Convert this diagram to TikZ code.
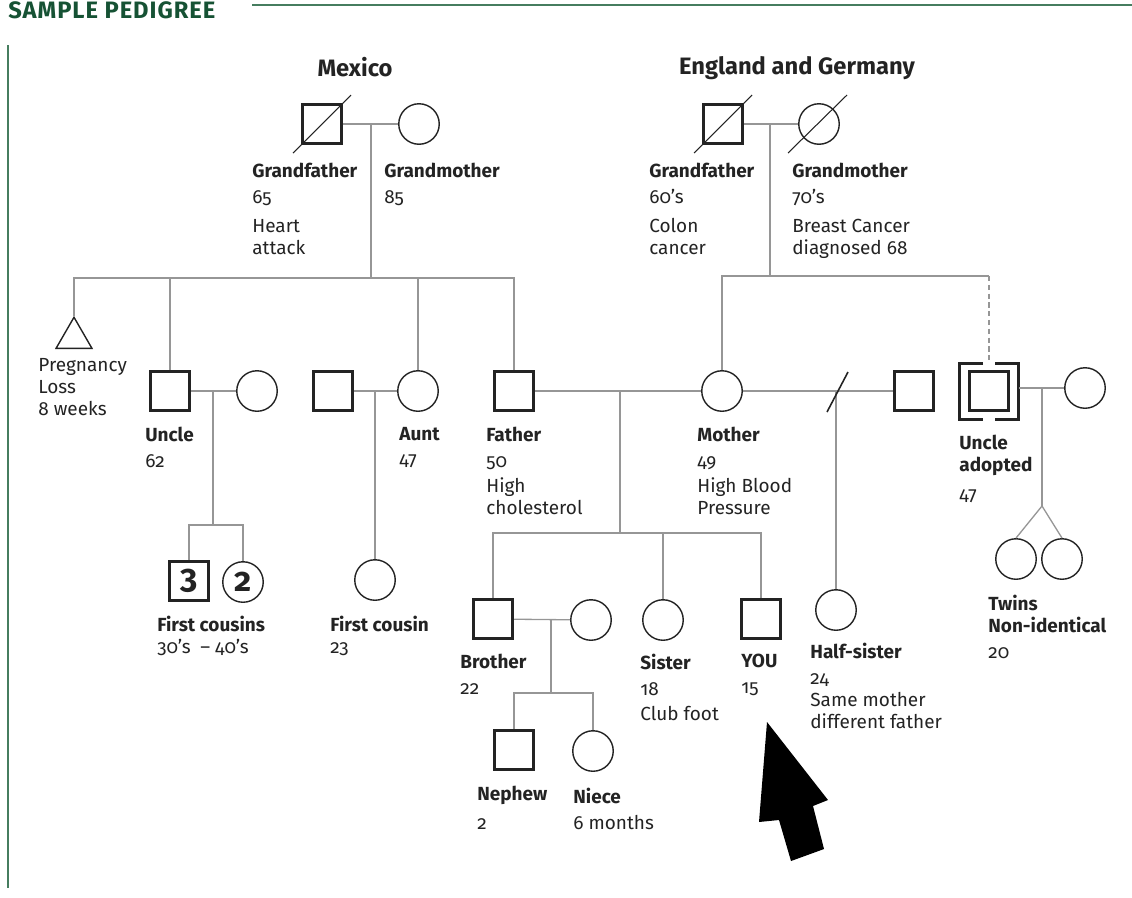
\documentclass[tikz,border=0pt]{standalone}
\usepackage{fontspec}
\setmainfont{Fira Sans}[Numbers=OldStyle]
\usepackage{tikz}
\definecolor{pdgreen}{RGB}{22,82,52}
\definecolor{pdrule}{RGB}{70,125,95}
\definecolor{pdgrey}{RGB}{150,150,150}
\definecolor{pdink}{RGB}{35,35,35}
\usetikzlibrary{calc, shapes.geometric}
\tikzset{
    pdmale/.style={rectangle, draw=pdink, minimum size=0.79cm, inner sep=0pt, line width=1.7pt},
    pdfemale/.style={circle, draw=pdink, minimum size=0.81cm, inner sep=0pt, line width=0.8pt},
    pdloss/.style={regular polygon, regular polygon sides=3, draw=pdink, minimum size=0.83cm, inner sep=0pt, line width=0.8pt},
    pdline/.style={draw=pdgrey, line width=0.75pt},
    pdslash/.style={draw=pdink, line width=0.6pt},
    pdnum/.style={font=\bfseries\fontsize{19}{20}\selectfont, text=pdink},
    pdtext/.style={anchor=north west, align=left, inner sep=0pt, text=pdink, font=\fontsize{10.8}{12.5}\selectfont},
    pdtitle/.style={inner sep=0pt, text=pdink, font=\bfseries\fontsize{13.5}{16}\selectfont}
}

\begin{document}
\begin{tikzpicture}[x=0.02cm, y=-0.02cm]
  \useasboundingbox (0,0) rectangle (1132,897);
  % header
  \node[anchor=base west, inner sep=0pt, text=pdgreen,
        font=\bfseries\fontsize{13.5}{15}\selectfont\addfontfeature{LetterSpace=4}] (head) at (8,18) {SAMPLE PEDIGREE};
  \draw[pdrule, line width=0.75pt] (252,5) -- (1132,5);
  \draw[pdrule, line width=0.75pt] (8,45) -- (8,888);

  % Mexico grandparents
  \node[pdtitle] (tmex) at (355,67) {Mexico};
  \node[pdmale] (mgf) at (322,124) {};
  \node[pdfemale] (mgm) at (419,124) {};
  \draw[pdslash] ($(mgf)+(-29,29)$) -- ($(mgf)+(29,-29)$);
  \coordinate (mm) at (371,124);
  \coordinate (ms) at (371,278);
  \draw[pdline] (mgf) -- (mgm);
  \draw[pdline] (mm) -- (ms);
  \node[pdtext] (lmgf) at (252,163) {\textbf{Grandfather}\\[2pt] 65\\[4pt] Heart\\ attack};
  \node[pdtext] (lmgm) at (384,163) {\textbf{Grandmother}\\[2pt] 85};

  % England and Germany grandparents
  \node[pdtitle] (teg) at (797,68) {England and Germany};
  \node[pdmale] (egf) at (723,124) {};
  \node[pdfemale] (egm) at (819,124) {};
  \draw[pdslash] ($(egf)+(-29,29)$) -- ($(egf)+(29,-29)$);
  \draw[pdslash] ($(egm)+(-31,29)$) -- ($(egm)+(28,-29)$);
  \coordinate (em) at (770,124);
  \coordinate (es) at (770,276);
  \draw[pdline] (egf) -- (egm);
  \draw[pdline] (em) -- (es);
  \node[pdtext] (legf) at (649,163) {\textbf{Grandfather}\\[2pt] 60’s\\[4pt] Colon\\ cancer};
  \node[pdtext] (legm) at (792,163) {\textbf{Grandmother}\\[2pt] 70’s\\[4pt] Breast Cancer\\ diagnosed 68};

  % Mexico children
  \node[pdloss] (loss) at (74,338) {};
  \node[pdmale] (uncle) at (170,391) {};
  \node[pdfemale] (unclew) at (257,391) {};
  \node[pdmale] (aunth) at (333,391) {};
  \node[pdfemale] (aunt) at (418,391) {};
  \node[pdmale] (father) at (514,391) {};
  \draw[pdline] (ms) -| (loss.corner 1);
  \draw[pdline] (ms) -| (uncle);
  \draw[pdline] (ms) -| (aunt);
  \draw[pdline] (ms) -| (father);
  \node[pdtext] (lloss) at (38,358) {Pregnancy\\ Loss\\ 8 weeks};
  \node[pdtext] (luncle) at (145,427) {\textbf{Uncle}\\[2pt] 62};
  \node[pdtext] (launt) at (399,427) {\textbf{Aunt}\\[2pt] 47};
  \node[pdtext] (lfather) at (486,427) {\textbf{Father}\\[2pt] 50\\[2pt] High\\ cholesterol};

  % England and Germany children
  \node[pdfemale] (mother) at (722,391) {};
  \node[pdmale] (uad) at (989,391) {};
  \coordinate (uadtop) at (989,276);
  \draw[pdline] (es) -| (mother);
  \draw[pdline] (es) -- (uadtop);
  \draw[pdline, dash pattern=on 3pt off 2pt] (uadtop) -- ($(uad)+(0,-28)$);
  \draw[pdink, line width=1.7pt] ($(uad)+(-6,-28)$) -- ++(-24,0) -- ++(0,56) -- ++(24,0);
  \draw[pdink, line width=1.7pt] ($(uad)+(6,-28)$) -- ++(23,0) -- ++(0,56) -- ++(-23,0);
  \node[pdtext] (lmother) at (697,427) {\textbf{Mother}\\[2pt] 49\\[2pt] High Blood\\ Pressure};
  \node[pdtext] (luad) at (959,435) {\textbf{Uncle}\\ \textbf{adopted}\\[4pt] 47};

  % uncle, aunt and their children
  \draw[pdline] (uncle) -- (unclew);
  \coordinate (um) at (213,391);
  \coordinate (us) at (213,525);
  \node[pdmale, pdnum] (cous3) at (189,581) {3};
  \node[pdfemale, pdnum] (cous2) at (243,582) {2};
  \draw[pdline] (um) -- (us);
  \draw[pdline] (us) -| (cous3);
  \draw[pdline] (us) -| (cous2);
  \node[pdtext] (lcous) at (157,616) {\textbf{First cousins}\\ 30’s\enspace– 40’s};
  \draw[pdline] (aunth) -- (aunt);
  \coordinate (am) at (375,391);
  \node[pdfemale] (cousa) at (375,580) {};
  \draw[pdline] (am) -- (cousa);
  \node[pdtext] (lcousa) at (330,616) {\textbf{First cousin}\\ 23};

  % parents and their children
  \draw[pdline] (father) -- (mother);
  \coordinate (fm) at (620,391);
  \coordinate (fs) at (620,533);
  \node[pdmale] (brother) at (493,619) {};
  \node[pdfemale] (sister) at (663,620) {};
  \node[pdmale] (you) at (761,619) {};
  \draw[pdline] (fm) -- (fs);
  \draw[pdline] (fs) -| (brother);
  \draw[pdline] (fs) -| (sister);
  \draw[pdline] (fs) -| (you);
  \node[pdtext] (lbro) at (460,654) {\textbf{Brother}\\[2pt] 22};
  \node[pdtext] (lsis) at (640,654) {\textbf{Sister}\\[2pt] 18\\[2pt] Club foot};
  \node[pdtext] (lyou) at (741,654) {\textbf{YOU}\\[2pt] 15};

  % mother's second partner
  \node[pdmale] (stepf) at (914,391) {};
  \coordinate (sm) at (836,391);
  \node[pdfemale] (halfs) at (836,610) {};
  \draw[pdline] (mother) -- (stepf);
  \draw[pdline] (sm) -- (halfs);
  \draw[pdslash, line width=0.9pt] ($(sm)+(-9,21)$) -- ($(sm)+(12,-19)$);
  \node[pdtext] (lhalf) at (810,643) {\textbf{Half-sister}\\[2pt] 24\\ Same mother\\ different father};

  % brother's family
  \node[pdfemale] (brow) at (591,620) {};
  \draw[pdline] (brother) -- (brow);
  \coordinate (bm) at (551,619);
  \coordinate (bs) at (551,693);
  \node[pdmale] (nephew) at (514,750) {};
  \node[pdfemale] (niece) at (593,751) {};
  \draw[pdline] (bm) -- (bs);
  \draw[pdline] (bs) -| (nephew);
  \draw[pdline] (bs) -| (niece);
  \node[pdtext] (lneph) at (477,786) {\textbf{Nephew}\\[4pt] 2};
  \node[pdtext] (lniece) at (573,788) {\textbf{Niece}\\[2pt] 6 months};

  % adopted uncle's family, twins
  \node[pdfemale] (uadw) at (1085,388) {};
  \coordinate (am2) at (1042,388);
  \coordinate (tw) at (1042,506);
  \node[pdfemale] (twin1) at (1016,559) {};
  \node[pdfemale] (twin2) at (1062,559) {};
  \draw[pdline] ($(uad.east)+(9,-3)$) -- (uadw);
  \draw[pdline] (am2) -- (tw);
  \draw[pdline] (tw) -- (twin1.north);
  \draw[pdline] (tw) -- (twin2.north);
  \node[pdtext] (ltwin) at (988,595) {\textbf{Twins}\\ \textbf{Non-identical}\\[2pt] 20};

  % pointer to you
  \fill[black] (767,722) -- (828,800) -- (813,806) -- (824,849) -- (791,861)
        -- (779,820) -- (759,822) -- cycle;
\end{tikzpicture}
\end{document}
